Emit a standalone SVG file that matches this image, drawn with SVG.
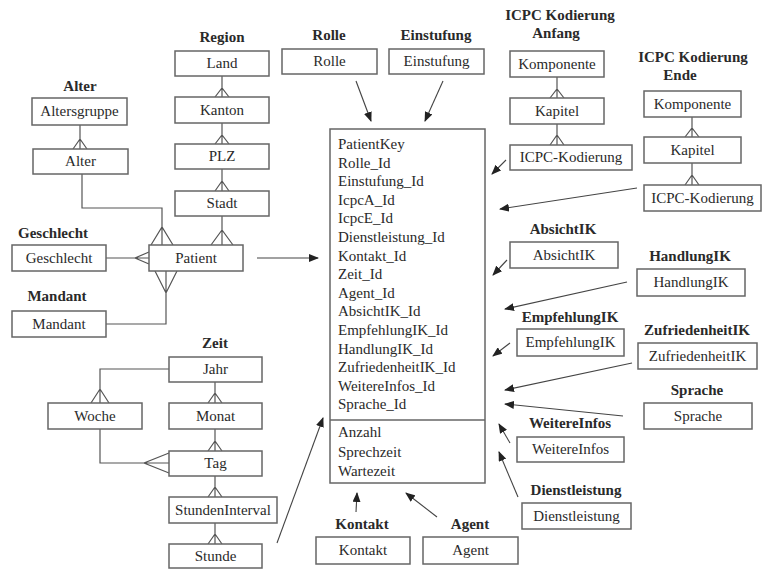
<svg xmlns="http://www.w3.org/2000/svg" width="762" height="569" viewBox="0 0 762 569">
<defs>
<marker id="arr" markerUnits="userSpaceOnUse" markerWidth="10" markerHeight="8" refX="9" refY="4" orient="auto">
<path d="M0,0 L10,4 L0,8 Z" fill="#222"/>
</marker>
<style>
.b{fill:#fff;stroke:#666;stroke-width:1.5}
.t{font-family:"Liberation Serif","Times New Roman",serif;font-size:15px;fill:#2a2a2a;text-anchor:middle}
.h{font-family:"Liberation Serif","Times New Roman",serif;font-size:15px;font-weight:bold;fill:#2a2a2a;text-anchor:middle}
.f{font-family:"Liberation Serif","Times New Roman",serif;font-size:15px;fill:#2a2a2a}
.c{fill:none;stroke:#555;stroke-width:1.2}
.a{fill:none;stroke:#444;stroke-width:1.1;marker-end:url(#arr)}
</style>
</defs>
<rect width="762" height="569" fill="#fff"/>
<g id="connectors">
<path class="c" d="M80,125V149M73,149L80,139L87,149"/>
<path class="c" d="M82,174V208H162V245M151,245L162,227L173,245"/>
<path class="c" d="M222,76V97M215,97L222,88L229,97"/>
<path class="c" d="M222,123V144M215,144L222,135L229,144"/>
<path class="c" d="M222,169V191M215,191L222,181L229,191"/>
<path class="c" d="M222,216V245M211,245L222,230L233,245"/>
<path class="c" d="M106,258H149M149,252L135,258L149,264"/>
<path class="c" d="M106,324H166V271M155,271L166,293L177,271"/>
<path class="c" d="M557,77V98M550,98L557,89L564,98"/>
<path class="c" d="M557,124V145M550,145L557,135L564,145"/>
<path class="c" d="M692,117V137M685,137L692,128L699,137"/>
<path class="c" d="M692,163V185M685,185L692,175L699,185"/>
<path class="c" d="M215,382V403M208,403L215,393L222,403"/>
<path class="c" d="M215,429V451M208,451L215,441L222,451"/>
<path class="c" d="M215,476V497M208,497L215,487L222,497"/>
<path class="c" d="M215,523V544M208,544L215,534L222,544"/>
<path class="c" d="M169,369H100V403M91,403L100,389L109,403"/>
<path class="c" d="M100,429V463H169M169,453L144,463L169,473"/>
<line class="a" x1="257" y1="258" x2="318" y2="258"/>
<line class="a" x1="356" y1="81" x2="371" y2="121"/>
<line class="a" x1="443" y1="81" x2="425" y2="121"/>
<line class="a" x1="506" y1="160" x2="492" y2="174"/>
<line class="a" x1="637" y1="188" x2="500" y2="209"/>
<line class="a" x1="507" y1="260" x2="493" y2="275"/>
<line class="a" x1="627" y1="282" x2="505" y2="309"/>
<line class="a" x1="510" y1="343" x2="493" y2="356"/>
<line class="a" x1="632" y1="363" x2="505" y2="390"/>
<line class="a" x1="623" y1="416" x2="505" y2="404"/>
<line class="a" x1="510" y1="443" x2="499" y2="424"/>
<line class="a" x1="518" y1="497" x2="499" y2="452"/>
<line class="a" x1="356" y1="512" x2="357" y2="493"/>
<line class="a" x1="437" y1="517" x2="406" y2="493"/>
<line class="a" x1="277" y1="543" x2="323" y2="418"/>
</g>
<g id="fact">
<rect class="b" x="330" y="129" width="155" height="354"/>
<line x1="330" y1="420" x2="485" y2="420" stroke="#666" stroke-width="1.5"/>
<text class="f" x="338" y="149">PatientKey</text>
<text class="f" x="338" y="167.6">Rolle_Id</text>
<text class="f" x="338" y="186.2">Einstufung_Id</text>
<text class="f" x="338" y="204.8">IcpcA_Id</text>
<text class="f" x="338" y="223.4">IcpcE_Id</text>
<text class="f" x="338" y="242">Dienstleistung_Id</text>
<text class="f" x="338" y="260.6">Kontakt_Id</text>
<text class="f" x="338" y="279.2">Zeit_Id</text>
<text class="f" x="338" y="297.8">Agent_Id</text>
<text class="f" x="338" y="316.4">AbsichtIK_Id</text>
<text class="f" x="338" y="335">EmpfehlungIK_Id</text>
<text class="f" x="338" y="353.6">HandlungIK_Id</text>
<text class="f" x="338" y="372.2">ZufriedenheitIK_Id</text>
<text class="f" x="338" y="390.8">WeitereInfos_Id</text>
<text class="f" x="338" y="409.4">Sprache_Id</text>
<text class="f" x="338" y="437">Anzahl</text>
<text class="f" x="338" y="456.5">Sprechzeit</text>
<text class="f" x="338" y="476">Wartezeit</text>
</g>
<g id="alter">
<text class="h" x="80" y="91">Alter</text>
<rect class="b" x="32" y="98" width="95" height="27"/><text class="t" x="79.5" y="116">Altersgruppe</text>
<rect class="b" x="33" y="149" width="95" height="25"/><text class="t" x="80.5" y="166">Alter</text>
</g>
<g id="region">
<text class="h" x="222" y="42">Region</text>
<rect class="b" x="175" y="51" width="94" height="25"/><text class="t" x="222" y="68">Land</text>
<rect class="b" x="175" y="97" width="94" height="26"/><text class="t" x="222" y="115">Kanton</text>
<rect class="b" x="175" y="144" width="94" height="25"/><text class="t" x="222" y="161">PLZ</text>
<rect class="b" x="175" y="191" width="94" height="25"/><text class="t" x="222" y="208">Stadt</text>
</g>
<g id="geschlecht">
<text class="h" x="53" y="238">Geschlecht</text>
<rect class="b" x="12" y="245" width="94" height="26"/><text class="t" x="59" y="263">Geschlecht</text>
</g>
<g id="patient">
<rect class="b" x="149" y="245" width="94" height="26"/><text class="t" x="196" y="263">Patient</text>
</g>
<g id="mandant">
<text class="h" x="57" y="301">Mandant</text>
<rect class="b" x="12" y="311" width="94" height="26"/><text class="t" x="59" y="329">Mandant</text>
</g>
<g id="rolle">
<text class="h" x="329" y="40">Rolle</text>
<rect class="b" x="282" y="49" width="95" height="25"/><text class="t" x="329.5" y="66">Rolle</text>
</g>
<g id="einstufung">
<text class="h" x="436" y="40">Einstufung</text>
<rect class="b" x="389" y="49" width="95" height="25"/><text class="t" x="436.5" y="66">Einstufung</text>
</g>
<g id="icpc-anfang">
<text class="h" x="560" y="20">ICPC Kodierung</text>
<text class="h" x="556" y="38">Anfang</text>
<rect class="b" x="510" y="51" width="94" height="26"/><text class="t" x="557" y="69">Komponente</text>
<rect class="b" x="510" y="98" width="94" height="26"/><text class="t" x="557" y="116">Kapitel</text>
<rect class="b" x="510" y="145" width="122" height="25"/><text class="t" x="571" y="162">ICPC-Kodierung</text>
</g>
<g id="icpc-ende">
<text class="h" x="693" y="62">ICPC Kodierung</text>
<text class="h" x="680" y="80">Ende</text>
<rect class="b" x="644" y="91" width="97" height="26"/><text class="t" x="692.5" y="109">Komponente</text>
<rect class="b" x="644" y="137" width="97" height="26"/><text class="t" x="692.5" y="155">Kapitel</text>
<rect class="b" x="644" y="185" width="117" height="26"/><text class="t" x="702.5" y="203">ICPC-Kodierung</text>
</g>
<g id="absicht">
<text class="h" x="563" y="234">AbsichtIK</text>
<rect class="b" x="510" y="242" width="108" height="26"/><text class="t" x="564" y="260">AbsichtIK</text>
</g>
<g id="handlung">
<text class="h" x="690" y="261">HandlungIK</text>
<rect class="b" x="637" y="269" width="108" height="27"/><text class="t" x="691" y="287">HandlungIK</text>
</g>
<g id="empfehlung">
<text class="h" x="570" y="322">EmpfehlungIK</text>
<rect class="b" x="517" y="329" width="107" height="27"/><text class="t" x="570.5" y="347">EmpfehlungIK</text>
</g>
<g id="zufriedenheit">
<text class="h" x="697" y="335">ZufriedenheitIK</text>
<rect class="b" x="638" y="343" width="119" height="26"/><text class="t" x="697.5" y="361">ZufriedenheitIK</text>
</g>
<g id="sprache">
<text class="h" x="697" y="395">Sprache</text>
<rect class="b" x="644" y="403" width="108" height="26"/><text class="t" x="698" y="421">Sprache</text>
</g>
<g id="weitereinfos">
<text class="h" x="570" y="428">WeitereInfos</text>
<rect class="b" x="517" y="437" width="107" height="25"/><text class="t" x="570.5" y="454">WeitereInfos</text>
</g>
<g id="dienstleistung">
<text class="h" x="576" y="495">Dienstleistung</text>
<rect class="b" x="522" y="503" width="109" height="26"/><text class="t" x="576.5" y="521">Dienstleistung</text>
</g>
<g id="kontakt">
<text class="h" x="362" y="529">Kontakt</text>
<rect class="b" x="316" y="537" width="94" height="27"/><text class="t" x="363" y="555">Kontakt</text>
</g>
<g id="agent">
<text class="h" x="470" y="529">Agent</text>
<rect class="b" x="423" y="537" width="95" height="27"/><text class="t" x="470.5" y="555">Agent</text>
</g>
<g id="zeit">
<text class="h" x="215" y="348">Zeit</text>
<rect class="b" x="169" y="357" width="93" height="25"/><text class="t" x="215.5" y="374">Jahr</text>
<rect class="b" x="169" y="403" width="93" height="26"/><text class="t" x="215.5" y="421">Monat</text>
<rect class="b" x="169" y="451" width="93" height="25"/><text class="t" x="215.5" y="468">Tag</text>
<rect class="b" x="169" y="497" width="108" height="26"/><text class="t" x="223" y="515">StundenInterval</text>
<rect class="b" x="169" y="544" width="93" height="24"/><text class="t" x="215.5" y="561">Stunde</text>
<rect class="b" x="48" y="403" width="94" height="26"/><text class="t" x="95" y="421">Woche</text>
</g>
</svg>
